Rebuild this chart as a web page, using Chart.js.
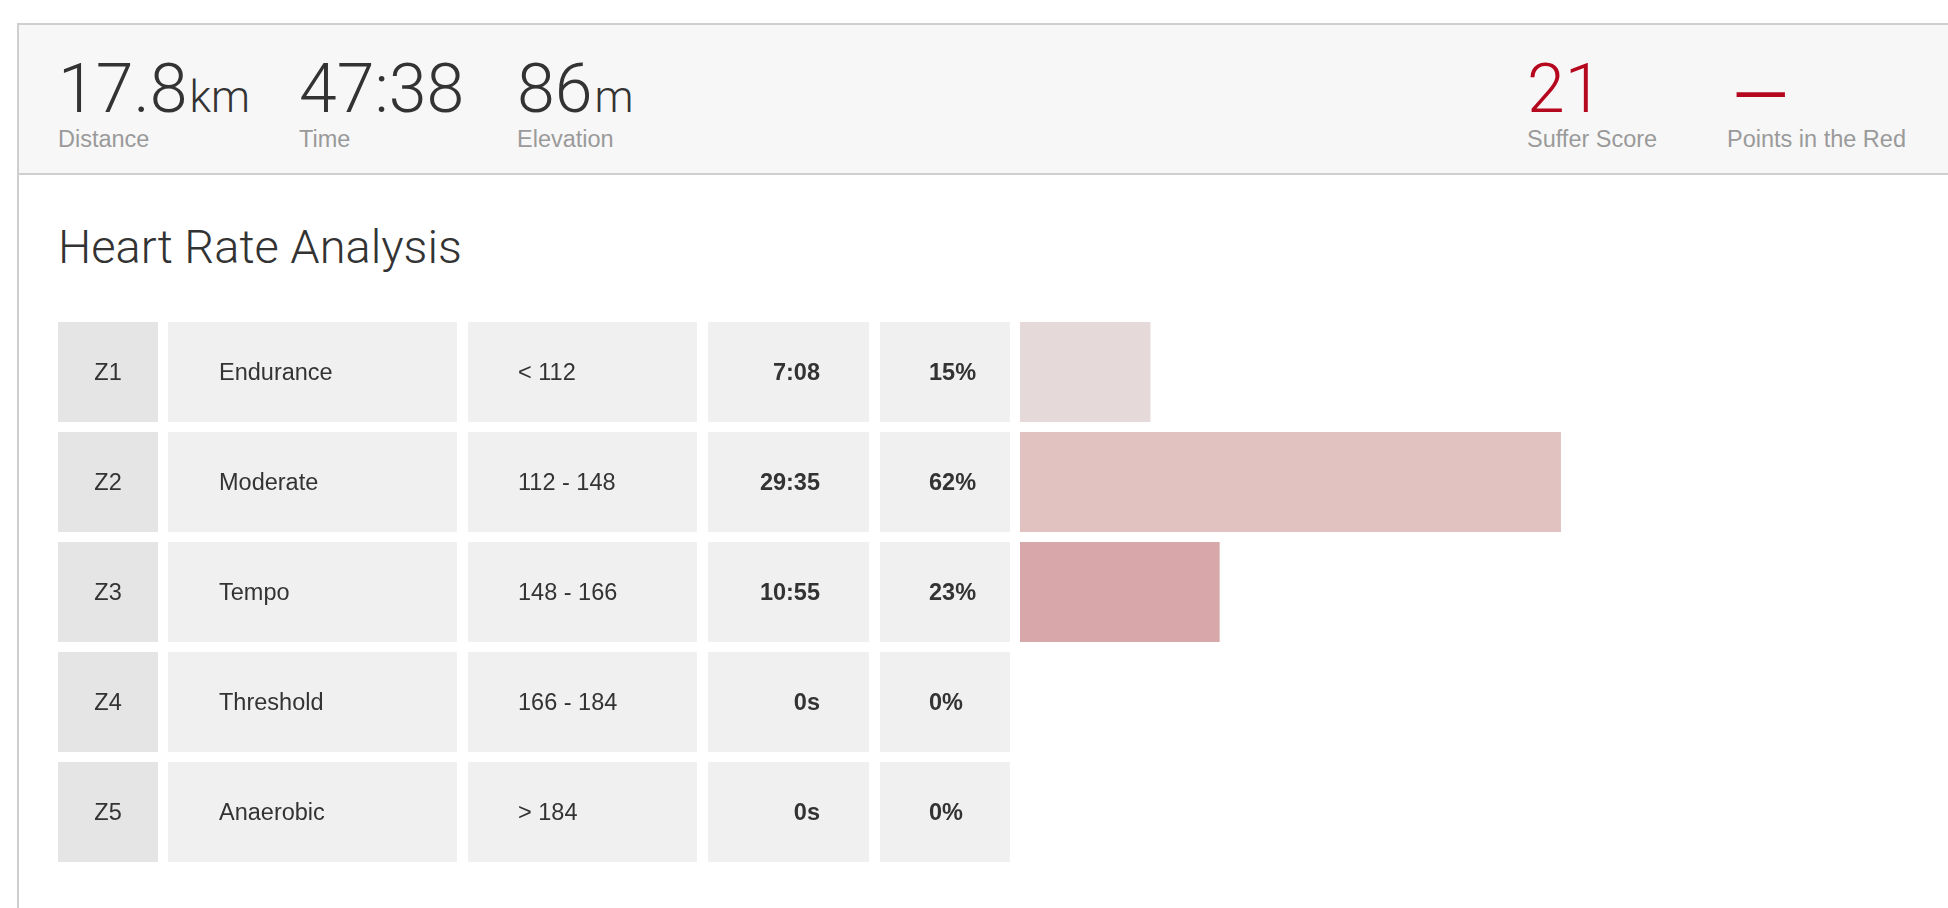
<!DOCTYPE html>
<html>
<head>
<meta charset="utf-8">
<script src="https://cdn.jsdelivr.net/npm/chart.js@4.4.1/dist/chart.umd.min.js"></script>
<style>
  html, body { margin: 0; padding: 0; background: #fff; }
  body { width: 1948px; height: 908px; overflow: hidden; position: relative; font-family: "Liberation Sans", Arial, sans-serif; color: #333; }
  #panel { position: absolute; left: 17px; top: 23px; right: 0; bottom: 0; border-left: 2px solid #cfcfcf; border-top: 2px solid #cfcfcf; }
  #header { position: absolute; left: 19px; top: 25px; right: 0; height: 148px; background: #f7f7f7; border-bottom: 2px solid #cfcfcf; }
  .stat { position: absolute; top: 0; }
  .stat .val { position: absolute; left: 0; top: 55px; font-family: Roboto, sans-serif; font-weight: 300; font-size: 68px; line-height: 68px; white-space: nowrap; color: #333; }
  .stat .val .unit { font-size: 44px; line-height: 0; margin-left: 2px; }
  .stat .val .dash { display: inline-block; transform-origin: 0 29.5px; transform: translate(5px, 6px) scale(1.09, 1.4); }
  .stat .lbl { position: absolute; left: 0; top: 128px; font-size: 23.5px; line-height: 23.5px; color: #9a9a9a; white-space: nowrap; }
  .red { color: #b5081e !important; }
  #title { position: absolute; left: 58px; top: 223px; font-family: Roboto, sans-serif; font-weight: 300; font-size: 47px; line-height: 47px; color: #333; white-space: nowrap; }
  #zones { position: absolute; left: 58px; top: 317px; }
</style>
</head>
<body>
<div id="panel"></div>
<div id="header"></div>
<div id="stats"></div>
<div id="title">Heart Rate Analysis</div>
<canvas id="zones" width="1833" height="550" style="width:1833px;height:550px"></canvas>

<script>
// summary numbers
const statValues = ["17.8", "47:38", "86"];
const statUnits = ["km", "", "m"];
const statLabels = ["Distance", "Time", "Elevation"];
const sideValues = ["21", "\u2014"];
const sideLabels = ["Suffer Score", "Points in the Red"];

// heart rate zones
const zones = ["Z1", "Z2", "Z3", "Z4", "Z5"];
const zoneNames = ["Endurance", "Moderate", "Tempo", "Threshold", "Anaerobic"];
const zoneRanges = ["< 112", "112 - 148", "148 - 166", "166 - 184", "> 184"];
const zoneTimes = ["7:08", "29:35", "10:55", "0s", "0s"];
const zoneSeconds = [428, 1775, 655, 0, 0];
const zonePercents = ["15%", "62%", "23%", "0%", "0%"];

const totalSeconds = 2858; // 47:38
const barColors = ["#e6d9da", "#e2c1c1", "#d8a7aa", "#cf8f93", "#c4737a"];

// header
let statsDiv = document.getElementById("stats");
let statLeft = [58, 299, 517];
let sideLeft = [1527, 1727];

function addStat(left, value, unit, label, red) {
    let d = document.createElement("div");
    d.className = "stat";
    d.style.left = left + "px";
    let v = document.createElement("div");
    v.className = "val" + (red ? " red" : "");
    if (value === "\u2014") {
        let s = document.createElement("span");
        s.className = "dash";
        s.textContent = value;
        v.appendChild(s);
    } else {
        v.textContent = value;
    }
    if (unit) {
        let u = document.createElement("span");
        u.className = "unit";
        u.textContent = unit;
        v.appendChild(u);
    }
    let l = document.createElement("div");
    l.className = "lbl";
    l.textContent = label;
    d.appendChild(v);
    d.appendChild(l);
    statsDiv.appendChild(d);
}

statValues.forEach((v, i) => addStat(statLeft[i], v, statUnits[i], statLabels[i], false));
sideValues.forEach((v, i) => addStat(sideLeft[i], v, "", sideLabels[i], true));

// table columns, relative to the canvas left edge
const columns = [
    { x: 0, w: 100, fill: "#e5e5e5" },
    { x: 110, w: 289, fill: "#f0f0f0" },
    { x: 410, w: 229, fill: "#f0f0f0" },
    { x: 650, w: 161, fill: "#f0f0f0" },
    { x: 822, w: 130, fill: "#f0f0f0" }
];

const tablePlugin = {
    id: "zoneTable",
    beforeDatasetsDraw(chart) {
        const ctx = chart.ctx;
        const y = chart.scales.y;
        const step = y.getPixelForValue(1) - y.getPixelForValue(0);
        const h = step * (100 / 110);
        ctx.save();
        zones.forEach((z, i) => {
            const cy = y.getPixelForValue(i);
            const top = cy - h / 2;
            columns.forEach(c => {
                ctx.fillStyle = c.fill;
                ctx.fillRect(c.x, top, c.w, h);
            });
            const base = cy + 8.4;
            ctx.fillStyle = "#333";
            ctx.font = '23.5px "Liberation Sans", Arial, sans-serif';
            ctx.textBaseline = "alphabetic";
            ctx.textAlign = "center";
            ctx.fillText(z, 50, base);
            ctx.textAlign = "left";
            ctx.fillText(zoneNames[i], 161, base);
            ctx.fillText(zoneRanges[i], 460, base);
            ctx.font = 'bold 23.5px "Liberation Sans", Arial, sans-serif';
            ctx.textAlign = "right";
            ctx.fillText(zoneTimes[i], 762, base);
            ctx.textAlign = "left";
            ctx.fillText(zonePercents[i], 871, base);
        });
        ctx.restore();
    }
};

const ctx = document.getElementById("zones").getContext("2d");
new Chart(ctx, {
    type: "bar",
    data: {
        labels: zones,
        datasets: [{
            data: zoneSeconds,
            backgroundColor: barColors,
            borderWidth: 0,
            barPercentage: 1,
            categoryPercentage: 100 / 110
        }]
    },
    options: {
        indexAxis: "y",
        responsive: false,
        animation: false,
        layout: { padding: { left: 962, right: 0, top: 0, bottom: 0 } },
        scales: {
            x: { display: false, min: 0, max: totalSeconds },
            y: { display: false }
        },
        plugins: {
            legend: { display: false },
            tooltip: { enabled: false }
        }
    },
    plugins: [tablePlugin]
});
</script>
</body>
</html>
